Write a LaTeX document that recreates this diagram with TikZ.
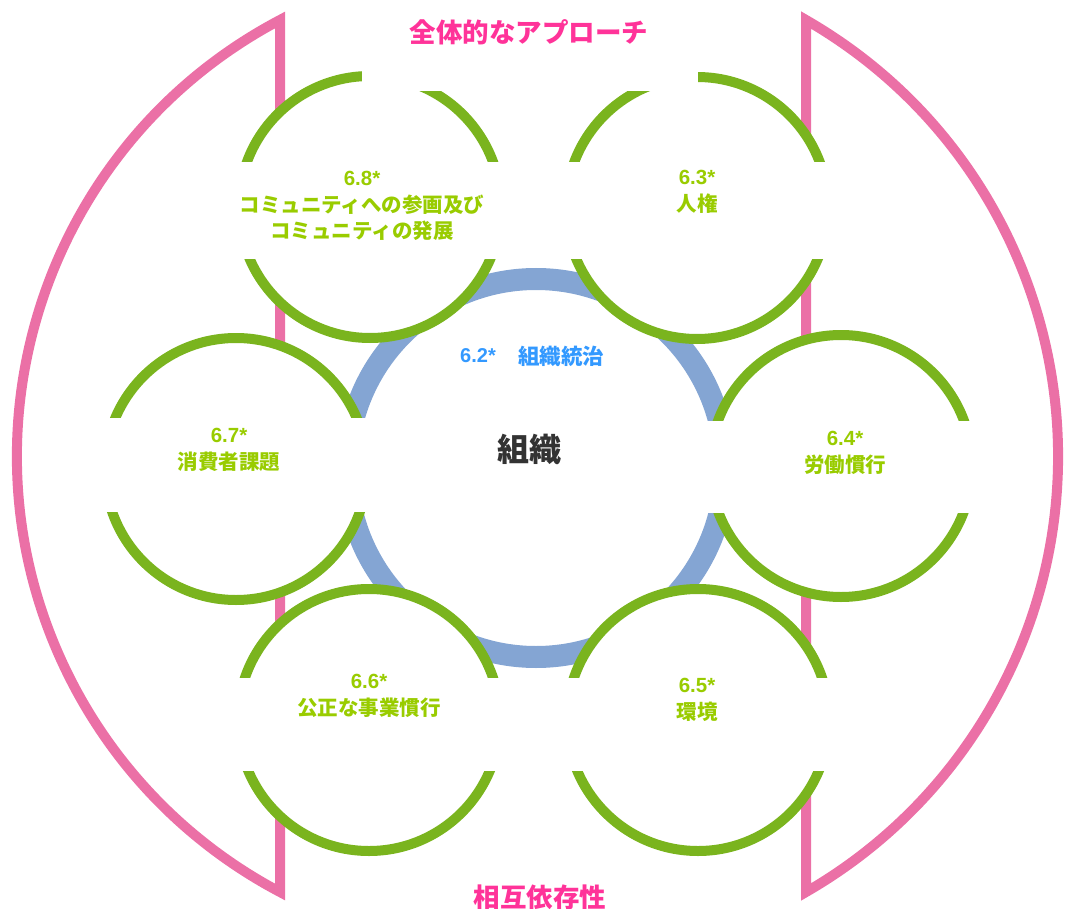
\documentclass[tikz,border=0pt]{standalone}
\usepackage{fontspec}
\setmainfont{Noto Sans CJK JP}
\newfontfamily\latinf{Liberation Sans}
\definecolor{pinkline}{HTML}{EB70A6}
\definecolor{ringblue}{HTML}{84A5D3}
\definecolor{circgreen}{HTML}{7AB41E}
\definecolor{txtgreen}{HTML}{99CC00}
\definecolor{txtblue}{HTML}{3399FF}
\definecolor{txtpink}{HTML}{FF3399}
\definecolor{txtdark}{HTML}{333333}
\newcommand{\numl}[1]{{\latinf\bfseries #1}}
\tikzset{
  pinkshape/.style={draw=pinkline,line width=10pt,line join=miter,miter limit=20},
  ringstyle/.style={draw=ringblue,line width=22pt},
  topicring/.style={draw=circgreen,fill=white,line width=10pt},
  mask/.style={fill=white},
  topiclabel/.style={text=txtgreen,font=\fontsize{20.5}{26.5}\selectfont\bfseries,align=center,inner sep=0pt},
  pinklabel/.style={text=txtpink,font=\fontsize{26.5}{30}\selectfont\bfseries,inner sep=0pt},
}
\begin{document}
\begin{tikzpicture}[x=1pt,y=-1pt]
\useasboundingbox (0,0) rectangle (1065,909);
% pink side shapes
\draw[pinkshape] (280,20) arc[start angle=242.2,end angle=117.8,radius=492.9] -- cycle;
\draw[pinkshape] (806,20) arc[start angle=-60.05,end angle=60.05,radius=503.2] -- cycle;
% blue ring
\draw[ringstyle] (536,468) circle[radius=189];
% topic circles
\draw[topicring] (370,207) circle[radius=131];
\draw[topicring] (697,208) circle[radius=131];
\draw[topicring] (236,469) circle[radius=131];
\draw[topicring] (841,466) circle[radius=131];
\draw[topicring] (369,720) circle[radius=131];
\draw[topicring] (698,720) circle[radius=131];
% label bands
\fill[mask] (228,162) rectangle (512,259);
\fill[mask] (555,162) rectangle (840,259);
\fill[mask] (94,418) rectangle (378,512);
\fill[mask] (699,421) rectangle (983,513);
\fill[mask] (227,678) rectangle (511,771);
\fill[mask] (556,678) rectangle (840,771);
\fill[mask] (362,0) rectangle (698,91);
% texts
\node[pinklabel] (title) at (529,32) {全体的なアプローチ};
\node[pinklabel] (bottom) at (540,897) {相互依存性};
\node[text=txtdark,font=\fontsize{32}{36}\selectfont\bfseries,inner sep=0pt] (org) at (529,449) {組織};
\node[text=txtblue,font=\fontsize{20}{24}\selectfont\bfseries,inner sep=0pt] (gov62) at (478,356) {\numl{6.2*}};
\node[text=txtblue,font=\fontsize{21.5}{24}\selectfont\bfseries,inner sep=0pt] (gov) at (561,356) {組織統治};
\node[topiclabel] (t68) at (362,206) {\numl{6.8*}\\コミュニティへの参画及び\\コミュニティの発展};
\node[topiclabel] (t63) at (697,192) {\numl{6.3*}\\人権};
\node[topiclabel] (t67) at (229,450) {\numl{6.7*}\\消費者課題};
\node[topiclabel] (t64) at (845,453) {\numl{6.4*}\\労働慣行};
\node[topiclabel] (t66) at (369,696) {\numl{6.6*}\\公正な事業慣行};
\node[topiclabel] (t65) at (697,700) {\numl{6.5*}\\環境};
\end{tikzpicture}
\end{document}
